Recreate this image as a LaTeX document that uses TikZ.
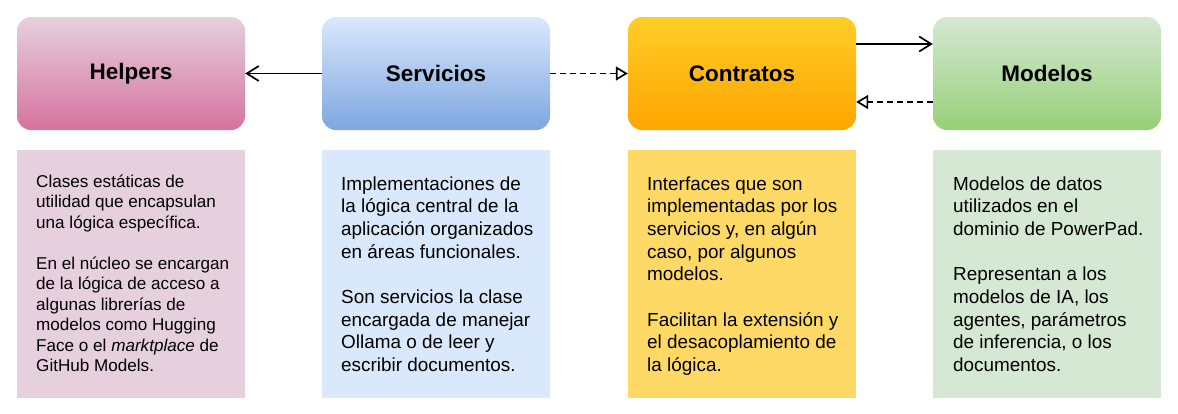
\documentclass[tikz,border=0pt]{standalone}
\usepackage{fontspec}
\setmainfont{Liberation Sans}
\usetikzlibrary{arrows.meta}
\definecolor{pinkA}{HTML}{E6D0DE}
\definecolor{pinkB}{HTML}{D5739D}
\definecolor{blueA}{HTML}{DAE8FC}
\definecolor{blueB}{HTML}{7EA6E0}
\definecolor{orA}{HTML}{FFCD28}
\definecolor{orB}{HTML}{FFA500}
\definecolor{grA}{HTML}{D5E8D4}
\definecolor{grB}{HTML}{97D077}
\definecolor{yel}{HTML}{FFD966}
\begin{document}
\begin{tikzpicture}[x=1pt,y=-1pt,
  head/.style={rounded corners=14pt, minimum width=228pt, minimum height=113pt, inner sep=0pt,
    font=\fontsize{22.5}{27}\selectfont\bfseries},
  descbox/.style={minimum width=228pt, minimum height=248pt, inner sep=0pt, anchor=north west},
  desc/.style={anchor=base west, inner sep=0pt},
  conn/.style={line width=1.7pt, black},
  dsh/.style={dash pattern=on 6pt off 4pt},
  barb/.style={-{Straight Barb[length=12pt,width=15pt,line width=1.7pt]}},
  tri/.style={-{Triangle[open,length=12pt,width=14pt,line width=1.7pt,fill=white]}}]
\useasboundingbox (0,0) rectangle (1178,413);
% headers
\node[head, top color=pinkA, bottom color=pinkB] (h) at (131,73.5) {Helpers};
\node[head, top color=blueA, bottom color=blueB] (s) at (436,73.5) {Servicios};
\node[head, top color=orA, bottom color=orB] (c) at (742,73.5) {Contratos};
\node[head, top color=grA, bottom color=grB] (m) at (1047,73.5) {Modelos};
% description boxes
\node[descbox, fill=pinkA] (hb) at (17,150) {};
\node[descbox, fill=blueA] (sb) at (322,150) {};
\node[descbox, fill=yel] (cb) at (628,150) {};
\node[descbox, fill=grA] (mb) at (933,150) {};
% texts
\node[desc] (ht) at (36,187) {\parbox[t]{205pt}{\raggedright\fontsize{17.1}{20.5}\selectfont
Clases estáticas de\\
utilidad que encapsulan\\
una lógica específica.\\[20.5pt]
En el núcleo se encargan\\
de la lógica de acceso a\\
algunas librerías de\\
modelos como Hugging\\
Face o el \textit{marktplace} de\\
GitHub Models.}};
\node[desc] (st) at (341,190) {\parbox[t]{215pt}{\raggedright\fontsize{18.9}{22.7}\selectfont
Implementaciones de\\
la lógica central de la\\
aplicación organizados\\
en áreas funcionales.\\[22.7pt]
Son servicios la clase\\
encargada de manejar\\
Ollama o de leer y\\
escribir documentos.}};
\node[desc] (ct) at (647,190) {\parbox[t]{215pt}{\raggedright\fontsize{18.9}{22.7}\selectfont
Interfaces que son\\
implementadas por los\\
servicios y, en algún\\
caso, por algunos\\
modelos.\\[22.7pt]
Facilitan la extensión y\\
el desacoplamiento de\\
la lógica.}};
\node[desc] (mt) at (953,190) {\parbox[t]{215pt}{\raggedright\fontsize{18.9}{22.7}\selectfont
Modelos de datos\\
utilizados en el\\
dominio de PowerPad.\\[22.7pt]
Representan a los\\
modelos de IA, los\\
agentes, parámetros\\
de inferencia, o los\\
documentos.}};
% connectors
\draw[conn, barb] (s.west) -- (h.east);
\draw[conn, dsh, tri] (s.east) -- (c.west);
\draw[conn, barb] ([yshift=29.5pt]c.east) -- ([yshift=29.5pt]m.west);
\draw[conn, dsh, tri] ([yshift=-28.5pt]m.west) -- ([yshift=-28.5pt]c.east);
\end{tikzpicture}
\end{document}
